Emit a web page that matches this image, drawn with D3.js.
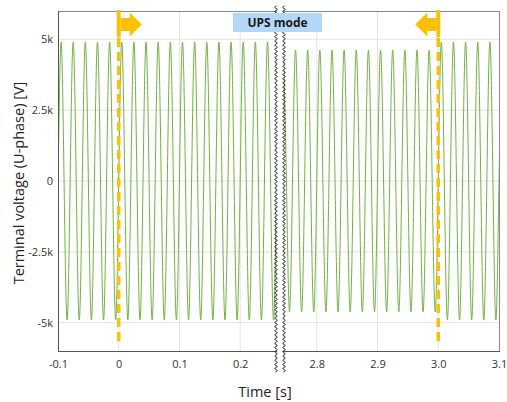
<!DOCTYPE html>
<html><head><meta charset="utf-8">
<script src="https://cdn.jsdelivr.net/npm/d3@7"></script>
<style>
html,body{margin:0;padding:0;background:#fff;}
svg{display:block;font-family:"Open Sans",sans-serif;}
</style></head>
<body><svg id="c" width="507" height="402"></svg>
<script>
// ---- data ----
const leftDomain = [-0.1, 0.259];
const rightDomain = [2.746, 3.1];
const yDomain = [-6000, 6000];
const yTicks = [5000, 2500, 0, -2500, -5000];
const yTickLabels = ["5k", "2.5k", "0", "-2.5k", "-5k"];
const xTicksLeft = [-0.1, 0, 0.1, 0.2];
const xTickLabelsLeft = ["-0.1", "0", "0.1", "0.2"];
const xTicksRight = [2.8, 2.9, 3.0, 3.1];
const xTickLabelsRight = ["2.8", "2.9", "3.0", "3.1"];
const switchTimes = [0, 3.0];
const halfPeriod = 0.01;           // 50 Hz
const leftFirstExtremum = -0.105;
const rightFirstExtremum = 2.745;
// successive half-cycle extrema (V)
const leftExtrema = [
 -4900, 4900, -4900, 4900, -4900, 4900, -4900, 4900, -4900, 4900,
 -4900, 4900, -4900, 4900, -4900, 4900, -4900, 4900, -4900, 4900,
 -4900, 4900, -4900, 4900, -4900, 4900, -4900, 4900, -4900, 4900,
 -4900, 4900, -4900, 4900, -4900, 4900, -4900, 4900];
const rightExtrema = [
  4620, -4620, 4620, -4620, 4620, -4620, 4620, -4620, 4620, -4620,
  4620, -4620, 4620, -4620, 4620, -4620, 4620, -4620, 4620, -4620,
  4620, -4620, 4620, -4620, 4620, -4620,
  4900, -4900, 4900, -4900, 4900, -4900, 4900, -4900, 4900, -4900, 4900];

// ---- layout ----
const L = 58, R = 499, T = 11, B = 351, gapL = 276, gapR = 284;
const svg = d3.select("#c");
const xL = d3.scaleLinear().domain(leftDomain).range([L, gapL]);
const xR = d3.scaleLinear().domain(rightDomain).range([gapR, R]);
const y = d3.scaleLinear().domain(yDomain).range([B, T]);
const gridC = "#e1e6dc", green = "#72b043", gold = "#ffc000";

// grid
const g = svg.append("g");
yTicks.forEach(v => {
  g.append("line").attr("x1", L).attr("x2", R).attr("y1", y(v)).attr("y2", y(v))
   .attr("stroke", gridC).attr("stroke-width", 1);
});
[[xL, xTicksLeft], [xR, xTicksRight]].forEach(([sc, tv]) => {
  tv.forEach(v => {
    const px = sc(v);
    if (px > L + 1 && px < R - 1)
      g.append("line").attr("x1", px).attr("x2", px).attr("y1", T).attr("y2", B)
       .attr("stroke", gridC).attr("stroke-width", 1);
  });
});

// signal
function pts(start, ext) {
  const p = [];
  ext.forEach((v, i) => {
    const t = start + i * halfPeriod;
    p.push([t, v]);
    if (i < ext.length - 1) p.push([t + halfPeriod / 2, 0]);
  });
  return p;
}
const defs = svg.append("defs");
defs.append("clipPath").attr("id", "cl").append("rect")
  .attr("x", L).attr("y", T).attr("width", gapL - L).attr("height", B - T);
defs.append("clipPath").attr("id", "cr").append("rect")
  .attr("x", gapR).attr("y", T).attr("width", R - gapR).attr("height", B - T);
[[xL, leftFirstExtremum, leftExtrema, "cl"], [xR, rightFirstExtremum, rightExtrema, "cr"]].forEach(([sc, s, e, c]) => {
  const line = d3.line().x(d => sc(d[0])).y(d => y(d[1])).curve(d3.curveNatural);
  svg.append("path").attr("d", line(pts(s, e))).attr("clip-path", `url(#${c})`)
    .attr("fill", "none").attr("stroke", green).attr("stroke-width", 1);
});

// frame
svg.append("line").attr("x1", L).attr("x2", R).attr("y1", T + 0.5).attr("y2", T + 0.5).attr("stroke", "#8a8a8a");
svg.append("line").attr("x1", R + 0.5).attr("x2", R + 0.5).attr("y1", T).attr("y2", B).attr("stroke", "#8a8a8a");
svg.append("line").attr("x1", L + 0.5).attr("x2", L + 0.5).attr("y1", T).attr("y2", B + 1).attr("stroke", "#555");
svg.append("line").attr("x1", L).attr("x2", R + 1).attr("y1", B + 0.5).attr("y2", B + 0.5).attr("stroke", "#555");

// switch markers
const sw = [[xL(switchTimes[0]), 1], [xR(switchTimes[1]), -1]];
sw.forEach(([px, dir]) => {
  svg.append("line").attr("x1", px).attr("x2", px).attr("y1", 38).attr("y2", B - 6)
    .attr("stroke", gold).attr("stroke-width", 3.5).attr("stroke-dasharray", "9,5");
  svg.append("rect").attr("x", px - 2).attr("y", T - 1).attr("width", 4).attr("height", 27).attr("fill", gold);
  const b = px + dir * 2;
  const poly = [[b, 18], [b + dir * 9, 18], [b + dir * 9, 12.5], [b + dir * 21, 24.5],
                [b + dir * 9, 36.5], [b + dir * 9, 31], [b, 31]];
  svg.append("polygon").attr("points", poly.map(p => p.join(",")).join(" ")).attr("fill", gold);
});

// axes labels
const fmt = labels => (d, i) => labels[i];
const ax1 = svg.append("g").attr("transform", `translate(0,${B})`)
  .call(d3.axisBottom(xL).tickValues(xTicksLeft).tickFormat(fmt(xTickLabelsLeft)).tickSize(0).tickPadding(9));
const ax2 = svg.append("g").attr("transform", `translate(0,${B})`)
  .call(d3.axisBottom(xR).tickValues(xTicksRight).tickFormat(fmt(xTickLabelsRight)).tickSize(0).tickPadding(9));
const ay = svg.append("g").attr("transform", `translate(${L},0)`)
  .call(d3.axisLeft(y).tickValues(yTicks).tickFormat(fmt(yTickLabels)).tickSize(0).tickPadding(5));
[ax1, ax2, ay].forEach(a => {
  a.select(".domain").remove();
  a.selectAll("text").attr("font-family", "Open Sans").attr("font-size", 11).attr("fill", "#333");
});

// break band
const wave = (x0) => {
  const p = [];
  for (let yy = 6; yy <= 372; yy += 0.5) p.push([x0 + 1.3 * Math.sin(2 * Math.PI * yy / 4.2), yy]);
  return d3.line()(p);
};
svg.append("rect").attr("x", gapL + 1).attr("y", 6).attr("width", gapR - gapL - 2).attr("height", 366).attr("fill", "#fff");
[gapL, gapR].forEach(x0 => {
  svg.append("path").attr("d", wave(x0)).attr("fill", "none").attr("stroke", "#222").attr("stroke-width", 1);
});

// UPS mode box
svg.append("rect").attr("x", 233).attr("y", 13).attr("width", 89).attr("height", 19).attr("fill", "#b3d7f7");
svg.append("text").attr("x", 277.5).attr("y", 27).attr("text-anchor", "middle")
  .attr("font-family", "Open Sans").attr("font-weight", "bold").attr("font-size", 12).attr("fill", "#1a1a1a")
  .text("UPS mode");

// titles
svg.append("text").attr("x", 265).attr("y", 397).attr("text-anchor", "middle")
  .attr("font-family", "Open Sans").attr("font-size", 14.5).attr("fill", "#222").text("Time [s]");
svg.append("text").attr("transform", "translate(24,183) rotate(-90)").attr("text-anchor", "middle")
  .attr("font-family", "Open Sans").attr("font-size", 14.5).attr("fill", "#222")
  .text("Terminal voltage (U-phase) [V]");
</script></body></html>
